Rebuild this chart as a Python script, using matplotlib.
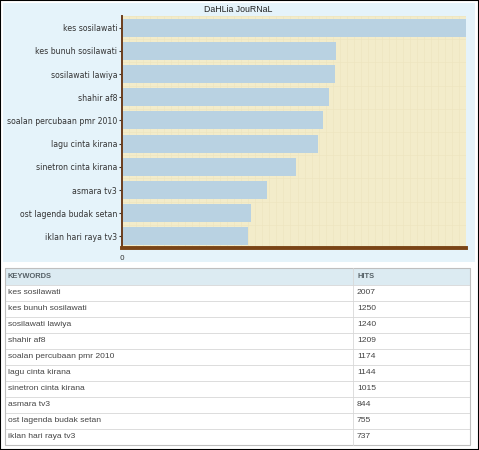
import matplotlib.pyplot as plt
from matplotlib.patches import Rectangle
import numpy as np

keywords = ['kes sosilawati', 'kes bunuh sosilawati', 'sosilawati lawiya', 'shahir af8',
            'soalan percubaan pmr 2010', 'lagu cinta kirana', 'sinetron cinta kirana',
            'asmara tv3', 'ost lagenda budak setan', 'iklan hari raya tv3']
hits = [2007, 1250, 1240, 1209, 1174, 1144, 1015, 844, 755, 737]
title = 'DaHLia JouRNaL'
col_heads = ['KEYWORDS', 'HITS']

W, H = 479, 450
fig = plt.figure(figsize=(W / 100, H / 100), dpi=100)
fig.patch.set_facecolor('white')

def box(x0, y0, x1, y1):
    # pixel box (top-left origin) -> figure fraction rect
    return [x0 / W, 1 - y1 / H, (x1 - x0) / W, (y1 - y0) / H]

# outer black frame and the pale blue chart panel
fig.patches.append(Rectangle((0.001, 0.001), 0.998, 0.998, transform=fig.transFigure,
                             fill=False, edgecolor='black', lw=1.5, zorder=5))
px, py, pw, ph = box(3, 3, 475, 262)
fig.patches.append(Rectangle((px, py), pw, ph, transform=fig.transFigure,
                             facecolor='#e5f3fa', edgecolor='none', zorder=-5))

# bar chart
ax = fig.add_axes(box(122, 16, 466, 248))
ax.set_facecolor('#f3ecca')
y = np.arange(len(keywords))
ax.barh(y, hits, height=0.78, color='#b9d2e2', zorder=2)
ax.set_xlim(0, max(hits))
ax.set_ylim(len(keywords) - 0.5, -0.5)
ax.set_yticks(y)
ax.set_yticklabels(keywords, fontsize=5.6, color='#333333', family='DejaVu Sans')
ax.set_xticks([0])
ax.set_xticklabels(['0'], fontsize=5.3, color='#333333')
ax.tick_params(axis='y', length=2.5, width=0.8, color='#333333', pad=1)
ax.tick_params(axis='x', length=0, pad=5)
ax.set_xticks(np.linspace(0, max(hits), 50), minor=True)
ax.grid(True, which='minor', axis='x', color='#eee5c0', lw=0.5, zorder=0)
ax.set_yticks(np.arange(-0.5, len(keywords), 0.5), minor=True)
ax.grid(True, which='minor', axis='y', color='#eee5c0', lw=0.5, zorder=0)
ax.tick_params(which='minor', length=0)
for s in ['top', 'right']:
    ax.spines[s].set_visible(False)
ax.spines['left'].set_color('#6b3d1c')
ax.spines['left'].set_linewidth(1.4)
ax.spines['bottom'].set_color('#7a4416')
ax.spines['bottom'].set_linewidth(2.8)
fig.text(238 / W, 1 - 10 / H, title, ha='center', va='center', fontsize=6.3,
         color='#222222', family='Liberation Sans')

# table below
tx = fig.add_axes(box(5, 268, 470, 445))
tx.set_xlim(0, 465)
tx.set_ylim(177, 0)
tx.axis('off')
head_h = 17
row_h = (177 - head_h) / len(keywords)
split = 348
tx.add_patch(Rectangle((0, 0), 465, head_h, facecolor='#dcebf2', edgecolor='#c9d6dc',
                       lw=0.7, clip_on=False))
tx.text(3, head_h / 2, col_heads[0], va='center', fontsize=5.4, color='#556066',
        fontweight='bold', family='Liberation Sans')
tx.text(split + 4, head_h / 2, col_heads[1], va='center', fontsize=5.4, color='#556066',
        fontweight='bold', family='Liberation Sans')
for i, (k, h) in enumerate(zip(keywords, hits)):
    top = head_h + i * row_h
    tx.add_patch(Rectangle((0, top), 465, row_h, facecolor='white', edgecolor='#dadada',
                           lw=0.6, clip_on=False))
    tx.text(3, top + row_h / 2, k, va='center', fontsize=6.1, color='#444444',
            family='Liberation Sans')
    tx.text(split + 4, top + row_h / 2, str(h), va='center', fontsize=6.1, color='#444444',
            family='Liberation Sans')
tx.plot([split, split], [0, 177], color='#d8d8d8', lw=0.6, clip_on=False)
tx.add_patch(Rectangle((0, 0), 465, 177, fill=False, edgecolor='#bfbfbf', lw=0.8,
                       clip_on=False))

fig.savefig('out.png', dpi=100)
